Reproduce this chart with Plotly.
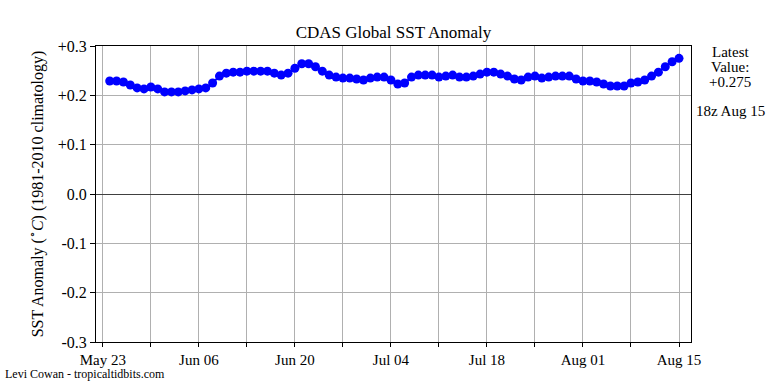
import datetime as dt
import plotly.graph_objects as go

start = dt.date(2024, 5, 24)
anom = [0.229, 0.229, 0.227, 0.221, 0.215, 0.213, 0.217, 0.213, 0.207, 0.207,
        0.207, 0.209, 0.211, 0.213, 0.215, 0.225, 0.239, 0.245, 0.247, 0.247,
        0.249, 0.249, 0.249, 0.249, 0.245, 0.241, 0.245, 0.255, 0.264, 0.264,
        0.258, 0.249, 0.241, 0.237, 0.235, 0.235, 0.233, 0.231, 0.235, 0.237,
        0.237, 0.231, 0.223, 0.225, 0.237, 0.241, 0.241, 0.241, 0.237, 0.239,
        0.241, 0.237, 0.237, 0.239, 0.243, 0.247, 0.247, 0.243, 0.239, 0.233,
        0.231, 0.237, 0.239, 0.235, 0.237, 0.239, 0.239, 0.239, 0.233, 0.229,
        0.229, 0.227, 0.223, 0.219, 0.219, 0.219, 0.225, 0.227, 0.231, 0.239,
        0.247, 0.258, 0.268, 0.275]
dates = [start + dt.timedelta(days=i) for i in range(len(anom))]

major_dates = [dt.date(2024, 5, 23) + dt.timedelta(days=14 * i) for i in range(7)]
major_text = [d.strftime("%b %d") for d in major_dates]
minor_dates = [dt.date(2024, 5, 30) + dt.timedelta(days=14 * i) for i in range(6)]
y_vals = [-0.3, -0.2, -0.1, 0.0, 0.1, 0.2, 0.3]
y_text = ["-0.3", "-0.2", "-0.1", "0.0", "+0.1", "+0.2", "+0.3"]

font = "Liberation Serif, serif"
fig = go.Figure()
fig.add_trace(go.Scatter(x=dates, y=anom, mode="lines+markers",
                         line=dict(color="#0000ff", width=2),
                         marker=dict(color="#0000ff", size=9)))
fig.update_layout(
    width=768, height=384,
    margin=dict(l=96, r=77, t=46, b=42),
    paper_bgcolor="white", plot_bgcolor="white",
    showlegend=False,
    font=dict(family=font, size=15, color="black"),
    title=dict(text="CDAS Global SST Anomaly", x=0.5, xref="paper",
               y=1, yref="container", yanchor="top", pad=dict(t=26),
               font=dict(family=font, size=17, color="black")),
)
fig.update_xaxes(
    type="date",
    range=[dt.datetime(2024, 5, 22, 0), dt.datetime(2024, 8, 16, 18)],
    tickmode="array", tickvals=major_dates, ticktext=major_text,
    ticks="outside", ticklen=4, tickcolor="black",
    showgrid=True, gridcolor="#b0b0b0", gridwidth=1,
    minor=dict(tickmode="array", tickvals=minor_dates, ticks="outside",
               ticklen=4, tickcolor="black", showgrid=True,
               gridcolor="#b0b0b0", gridwidth=1),
    showline=True, linecolor="black", linewidth=1, mirror=True,
    tickfont=dict(family=font, size=15),
    automargin=False,
)
fig.update_yaxes(
    range=[-0.3, 0.3],
    tickmode="array", tickvals=y_vals, ticktext=y_text,
    ticks="outside", ticklen=5, tickcolor="black",
    showgrid=True, gridcolor="#b0b0b0", gridwidth=1,
    zeroline=True, zerolinecolor="#404040", zerolinewidth=1.2,
    showline=True, linecolor="black", linewidth=1, mirror=True,
    tickfont=dict(family=font, size=16),
    title=dict(text="SST Anomaly (<sup>∘</sup><i>C</i>) (1981-2010 climatology)",
               font=dict(family=font, size=16), standoff=10),
    automargin=False,
)
ax = 1.0 + 39 / 595
for txt, yy in [("Latest", 0.980), ("Value:", 0.929), ("+%.3f" % anom[-1], 0.878),
                ("18z " + dates[-1].strftime("%b %d"), 0.780)]:
    fig.add_annotation(text=txt, xref="paper", yref="paper", x=ax, y=yy,
                       xanchor="center", yanchor="middle", showarrow=False,
                       font=dict(family=font, size=15))
fig.add_annotation(text="Levi Cowan - tropicaltidbits.com",
                   xref="paper", yref="paper", x=-93 / 595, y=-32 / 296,
                   xanchor="left", yanchor="middle", showarrow=False,
                   font=dict(family=font, size=12))
fig.write_html("out.html", config={"displayModeBar": False},
               post_script="document.body.style.margin='0';")
